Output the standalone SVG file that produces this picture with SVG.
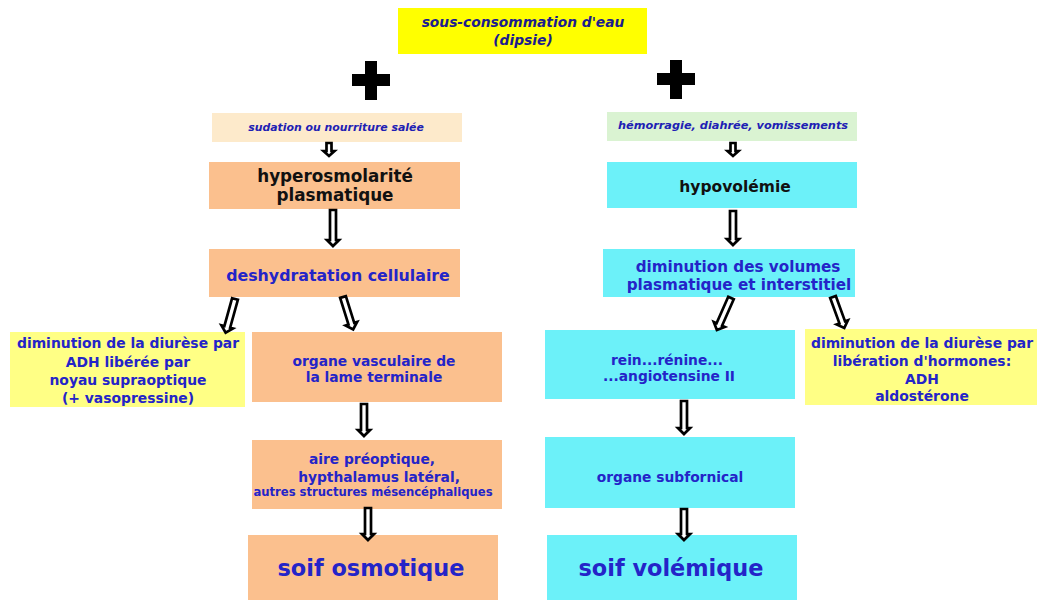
<svg xmlns="http://www.w3.org/2000/svg" width="1037" height="600" viewBox="0 0 1037 600">
<style>
text{font-family:"DejaVu Sans","Verdana",sans-serif;font-weight:bold;text-anchor:middle;fill:#2424c8}
.it{font-style:italic}
.blk{fill:#111}
.nv{fill:#1c1c8e}
.peach{fill:#fbc08e}
.lpeach{fill:#fdeacb}
.lgreen{fill:#daf3d2}
.cyan{fill:#6cf1f9}
.yel{fill:#ffff00}
.pyel{fill:#ffff85}
.arr{fill:#fff;stroke:#000;stroke-width:2.7;stroke-linejoin:miter}
</style>
<rect width="1037" height="600" fill="#fff"/>

<g id="top">
<rect class="yel" x="398" y="8" width="249" height="46"/>
<text class="it nv" x="523" y="27" font-size="13.8">sous-consommation d'eau</text>
<text class="it nv" x="523" y="45" font-size="13.8">(dipsie)</text>
</g>
<g id="plusL"><path d="M365 61h12v13h13v12h-13v14h-12v-14h-13v-12h13z" fill="#000"/></g>
<g id="plusR"><path d="M670 60h12v13h13v12h-13v14h-12v-14h-13v-12h13z" fill="#000"/></g>

<g id="sudation">
<rect class="lpeach" x="212" y="113" width="250" height="29"/>
<text class="it" x="336" y="131" font-size="10.9" style="fill:#2020b4">sudation ou nourriture salée</text>
</g>
<g id="hyperosmo">
<rect class="peach" x="209" y="162" width="251" height="47"/>
<text class="blk" x="335" y="182" font-size="16.8">hyperosmolarité</text>
<text class="blk" x="335" y="201" font-size="16.8">plasmatique</text>
</g>
<g id="deshydratation">
<rect class="peach" x="209" y="249" width="251" height="48"/>
<text x="338" y="281" font-size="15.8">deshydratation cellulaire</text>
</g>
<g id="adhL">
<rect class="pyel" x="10" y="332" width="235" height="75"/>
<text x="128" y="348" font-size="13.9">diminution de la diurèse par</text>
<text x="128" y="367" font-size="13.9">ADH libérée par</text>
<text x="128" y="385" font-size="13.9">noyau supraoptique</text>
<text x="128" y="403" font-size="13.9">(+ vasopressine)</text>
</g>
<g id="ovlt">
<rect class="peach" x="252" y="332" width="250" height="70"/>
<text x="374" y="366" font-size="13.8">organe vasculaire de</text>
<text x="374" y="382" font-size="13.8">la lame terminale</text>
</g>
<g id="preoptique">
<rect class="peach" x="252" y="440" width="250" height="69"/>
<text x="372" y="464" font-size="13.8">aire préoptique,</text>
<text x="379" y="482" font-size="13.8">hypthalamus latéral,</text>
<text x="373" y="496" font-size="11.6">autres structures mésencéphaliques</text>
</g>
<g id="soifOsmo">
<rect class="peach" x="248" y="535" width="250" height="65"/>
<text x="371" y="576" font-size="22.4">soif osmotique</text>
</g>

<g id="hemorragie">
<rect class="lgreen" x="607" y="112" width="250" height="29"/>
<text class="it" x="733" y="129" font-size="11.3" style="fill:#2020b4">hémorragie, diahrée, vomissements</text>
</g>
<g id="hypovolemie">
<rect class="cyan" x="607" y="162" width="250" height="46"/>
<text class="blk" x="735" y="192" font-size="15.5">hypovolémie</text>
</g>
<g id="volumes">
<rect class="cyan" x="603" y="249" width="252" height="48"/>
<text x="738" y="272" font-size="15.2">diminution des volumes</text>
<text x="739" y="290" font-size="15.2">plasmatique et interstitiel</text>
</g>
<g id="rein">
<rect class="cyan" x="545" y="330" width="250" height="69"/>
<text x="667" y="365" font-size="13.8">rein...rénine...</text>
<text x="669" y="381" font-size="13.8">...angiotensine II</text>
</g>
<g id="adhR">
<rect class="pyel" x="805" y="329" width="232" height="76"/>
<text x="922" y="348" font-size="13.9">diminution de la diurèse par</text>
<text x="922" y="366" font-size="13.9">libération d'hormones:</text>
<text x="922" y="384" font-size="13.9">ADH</text>
<text x="922" y="401" font-size="13.9">aldostérone</text>
</g>
<g id="subfornical">
<rect class="cyan" x="545" y="437" width="250" height="71"/>
<text x="670" y="482" font-size="13.8">organe subfornical</text>
</g>
<g id="soifVol">
<rect class="cyan" x="547" y="535" width="250" height="65"/>
<text x="671" y="576" font-size="22.4">soif volémique</text>
</g>

<g id="connectors">
<polygon class="arr" points="326.5,143 331.5,143 331.5,151 334.5,151 329,156 323.5,151 326.5,151"/>
<polygon class="arr" points="330,210 336,210 336,240 339,240 333,246 327,240 330,240"/>
<polygon class="arr" points="361,404 367,404 367,430 370,430 364,436 358,430 361,430"/>
<polygon class="arr" points="365,508 371,508 371,534 374,534 368,540 362,534 365,534"/>
<polygon class="arr" points="730.5,143 735.5,143 735.5,151 738.5,151 733,156 727.5,151 730.5,151"/>
<polygon class="arr" points="730,211 736,211 736,239 739,239 733,245 727,239 730,239"/>
<polygon class="arr" points="681,401 687,401 687,428 690,428 684,434 678,428 681,428"/>
<polygon class="arr" points="681,509 687,509 687,534 690,534 684,540 678,534 681,534"/>
<g transform="translate(235,299) rotate(15.5)"><polygon class="arr" points="-3,0 3,0 3,29 6,29 0,35 -6,29 -3,29"/></g>
<g transform="translate(343,297) rotate(-17.4)"><polygon class="arr" points="-3,0 3,0 3,28 6,28 0,34 -6,28 -3,28"/></g>
<g transform="translate(731,298) rotate(23.8)"><polygon class="arr" points="-3,0 3,0 3,29 6,29 0,35 -6,29 -3,29"/></g>
<g transform="translate(833,297) rotate(-20)"><polygon class="arr" points="-3,0 3,0 3,27 6,27 0,33 -6,27 -3,27"/></g>
</g>
</svg>
